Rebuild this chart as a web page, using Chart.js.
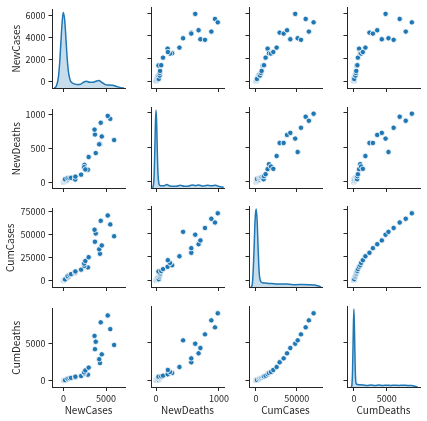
<!DOCTYPE html>
<html>
<head>
<meta charset="utf-8">
<script src="https://cdn.jsdelivr.net/npm/chart.js@4.4.1/dist/chart.umd.min.js"></script>
<style>
  body { margin: 0; background: #fff; }
  #grid { position: relative; width: 427px; height: 421px; overflow: hidden; }
  #grid canvas { position: absolute; }
</style>
</head>
<body>
<div id="grid"></div>
<script>
// variable names (axis titles)
const varNames = ['NewCases', 'NewDeaths', 'CumCases', 'CumDeaths'];

// one value per record, same order in the four arrays
const newCases = [0, 0, 0, 0, 0, 2, 5, 10, 18, 30, 45, 65, 90, 120, 160, 210, 270, 330, 400, 460,
  180, 530, 480, 710, 890, 1360, 1380, 1400, 2070,
  2870, 2460, 2430, 2570, 2960, 4290, 4200, 4500, 3700, 5950, 3790, 3650, 5500, 4380, 5200];
const newDeaths = [0, 0, 0, 0, 0, 0, 0, 0, 1, 1, 2, 3, 4, 6, 9, 12, 16, 20, 26, 32,
  43, 53, 58, 58, 64, 53, 39, 82, 111,
  184, 256, 222, 188, 372, 560, 560, 676, 705, 623, 430, 778, 937, 879, 981];
const cumCases = [0, 0, 0, 0, 0, 10, 40, 90, 160, 250, 380, 520, 700, 900, 1100, 1500, 1900, 2300, 2800, 3200,
  1230, 3690, 5000, 6150, 7000, 8300, 9430, 9900, 11890,
  14340, 16000, 18440, 21310, 25410, 29100, 34020, 38200, 42200, 48200, 51230, 55300, 61070, 65000, 70800];
const cumDeaths = [0, 0, 0, 0, 0, 0, 1, 2, 4, 7, 11, 16, 22, 30, 38, 55, 72, 90, 115, 140,
  44, 175, 240, 310, 360, 420, 480, 520, 610,
  790, 960, 1100, 1360, 1750, 2370, 2890, 3550, 4250, 4820, 5260, 6050, 6970, 7890, 8820];

// tick labels
const newCasesXTicks = [0, 5000];
const newCasesYTicks = [0, 2000, 4000, 6000];
const newDeathsXTicks = [0, 1000];
const newDeathsYTicks = [0, 500, 1000];
const cumCasesXTicks = [0, 50000];
const cumCasesYTicks = [0, 25000, 50000, 75000];
const cumDeathsXTicks = [0, 5000];
const cumDeathsYTicks = [0, 5000];

// density curves on the diagonal (relative height, peak = 1)
const kdeNewCasesX = [-1107, -1000, -800, -600, -450, -300, -150, -30, 150, 300, 450, 600, 800, 1000,
  1250, 1600, 2000, 2400, 2700, 3050, 3400, 3800, 4150, 4500, 4900, 5300, 5750, 6250, 6750, 7100];
const kdeNewCasesY = [0, 0.005, 0.035, 0.14, 0.33, 0.61, 0.88, 1.0, 0.89, 0.63, 0.37, 0.2, 0.1, 0.07,
  0.055, 0.045, 0.05, 0.08, 0.09, 0.075, 0.075, 0.09, 0.1, 0.075, 0.045, 0.04, 0.035, 0.02, 0.005, 0];
const kdeNewDeathsX = [-60, -45, -30, -20, -10, 0, 10, 20, 30, 45, 60, 90, 130, 170, 210, 260, 320,
  385, 450, 520, 573, 630, 680, 740, 813, 880, 947, 1000, 1075];
const kdeNewDeathsY = [0, 0.02, 0.17, 0.46, 0.82, 1.0, 0.83, 0.48, 0.2, 0.06, 0.035, 0.03, 0.03, 0.045,
  0.03, 0.022, 0.022, 0.035, 0.022, 0.025, 0.04, 0.03, 0.04, 0.025, 0.035, 0.03, 0.035, 0.02, 0.01];
const kdeCumCasesX = [-6000, -4500, -3000, -2000, -1000, 300, 1500, 2500, 3500, 4500, 6000, 8000, 12000,
  17000, 25000, 33000, 41000, 49000, 57000, 65000, 72000, 77000, 80000];
const kdeCumCasesY = [0, 0.03, 0.29, 0.57, 0.87, 1.0, 0.85, 0.55, 0.28, 0.13, 0.07, 0.055, 0.05,
  0.045, 0.04, 0.04, 0.035, 0.03, 0.033, 0.03, 0.025, 0.012, 0];
const kdeCumDeathsX = [-400, -300, -200, -100, 0, 100, 200, 300, 450, 700, 1000, 1500, 2000, 2600,
  3200, 3800, 4400, 5000, 5600, 6200, 6800, 7500, 8200, 8800, 9300, 9700];
const kdeCumDeathsY = [0, 0.03, 0.22, 0.68, 1.0, 0.68, 0.24, 0.06, 0.035, 0.03, 0.03, 0.025, 0.02, 0.025,
  0.02, 0.025, 0.02, 0.022, 0.02, 0.022, 0.02, 0.022, 0.02, 0.02, 0.01, 0];

// axis limits as x (column) and as y (row)
const newCasesXRange = [-1350, 7230];
const newCasesYRange = [-620, 6560];
const newDeathsXRange = [-80, 1080];
const newDeathsYRange = [-87, 1077];
const cumCasesXRange = [-8500, 81100];
const cumCasesYRange = [-7000, 78500];
const cumDeathsXRange = [-1050, 10060];
const cumDeathsYRange = [-880, 9780];

const columns = [newCases, newDeaths, cumCases, cumDeaths];
const xTicks = [newCasesXTicks, newDeathsXTicks, cumCasesXTicks, cumDeathsXTicks];
const yTicks = [newCasesYTicks, newDeathsYTicks, cumCasesYTicks, cumDeathsYTicks];
const xRanges = [newCasesXRange, newDeathsXRange, cumCasesXRange, cumDeathsXRange];
const yRanges = [newCasesYRange, newDeathsYRange, cumCasesYRange, cumDeathsYRange];
const kdes = [[kdeNewCasesX, kdeNewCasesY], [kdeNewDeathsX, kdeNewDeathsY],
  [kdeCumCasesX, kdeCumCasesY], [kdeCumDeathsX, kdeCumDeathsY]];

Chart.defaults.font.family = "'Noto Sans CJK SC', 'DejaVu Sans', sans-serif";
Chart.defaults.font.size = 10;
Chart.defaults.color = '#262626';

// layout of the 4x4 grid (plot area of each panel)
const colLeft = [52, 151, 249, 347];
const rowTop = [7, 107, 206, 306];
const yTitlePad = [10, 10, 4, 10]; // row titles sit further left when tick labels are wide
const AREA_W = 73, AREA_H = 81;
const Y_AXIS_W = 52, X_AXIS_H = 34, PAD_T = 6, PAD_R = 12;
const BLUE = '#1f77b4';
const INK = '#262626';

function makeAxis(range, ticks, showLabels, title, isX, titlePad) {
  return {
    type: 'linear',
    position: isX ? 'bottom' : 'left',
    min: range[0],
    max: range[1],
    afterBuildTicks: s => { s.ticks = ticks.map(v => ({ value: v })); },
    afterFit: s => { if (isX) s.height = X_AXIS_H; else s.width = Y_AXIS_W; },
    ticks: { display: showLabels, padding: isX ? 2 : 3, callback: v => String(v), color: INK, font: { size: 9 } },
    grid: { display: true, drawOnChartArea: false, drawTicks: true, tickLength: isX ? 4 : 3.5, color: INK, lineWidth: 1 },
    border: { display: true, color: INK, width: 1 },
    title: {
      display: showLabels,
      text: title,
      color: INK,
      padding: isX ? { top: 0, bottom: 5 } : { top: titlePad, bottom: 0 }
    }
  };
}

function makePanel(r, c) {
  const cv = document.createElement('canvas');
  const w = Y_AXIS_W + AREA_W + PAD_R;
  const h = PAD_T + AREA_H + X_AXIS_H;
  cv.width = w;
  cv.height = h;
  cv.style.width = w + 'px';
  cv.style.height = h + 'px';
  cv.style.left = (colLeft[c] - Y_AXIS_W) + 'px';
  cv.style.top = (rowTop[r] - PAD_T) + 'px';
  document.getElementById('grid').appendChild(cv);

  const scales = {
    x: makeAxis(xRanges[c], xTicks[c], r === 3, varNames[c], true, 0),
    y: makeAxis(yRanges[r], yTicks[r], c === 0, varNames[r], false, yTitlePad[r])
  };
  let datasets;
  if (r === c) {
    const [kx, ky] = kdes[c];
    scales.k = { type: 'linear', display: false, min: 0, max: 1.04 };
    datasets = [{
      type: 'line',
      data: kx.map((x, i) => ({ x: x, y: ky[i] })),
      yAxisID: 'k',
      borderColor: BLUE,
      borderWidth: 1.5,
      backgroundColor: 'rgba(31,119,180,0.25)',
      fill: 'start',
      pointRadius: 0,
      cubicInterpolationMode: 'monotone'
    }];
  } else {
    const xs = columns[c], ys = columns[r];
    datasets = [{
      data: xs.map((x, i) => ({ x: x, y: ys[i] })),
      backgroundColor: BLUE,
      borderColor: '#ffffff',
      borderWidth: 0.8,
      pointRadius: 2.7
    }];
  }

  new Chart(cv, {
    type: 'scatter',
    data: { datasets },
    options: {
      responsive: false,
      animation: false,
      events: [],
      layout: { padding: { top: PAD_T, right: PAD_R, left: 0, bottom: 0 } },
      plugins: { legend: { display: false }, tooltip: { enabled: false } },
      scales
    }
  });
}

for (let r = 0; r < 4; r++) {
  for (let c = 0; c < 4; c++) makePanel(r, c);
}
</script>
</body>
</html>
